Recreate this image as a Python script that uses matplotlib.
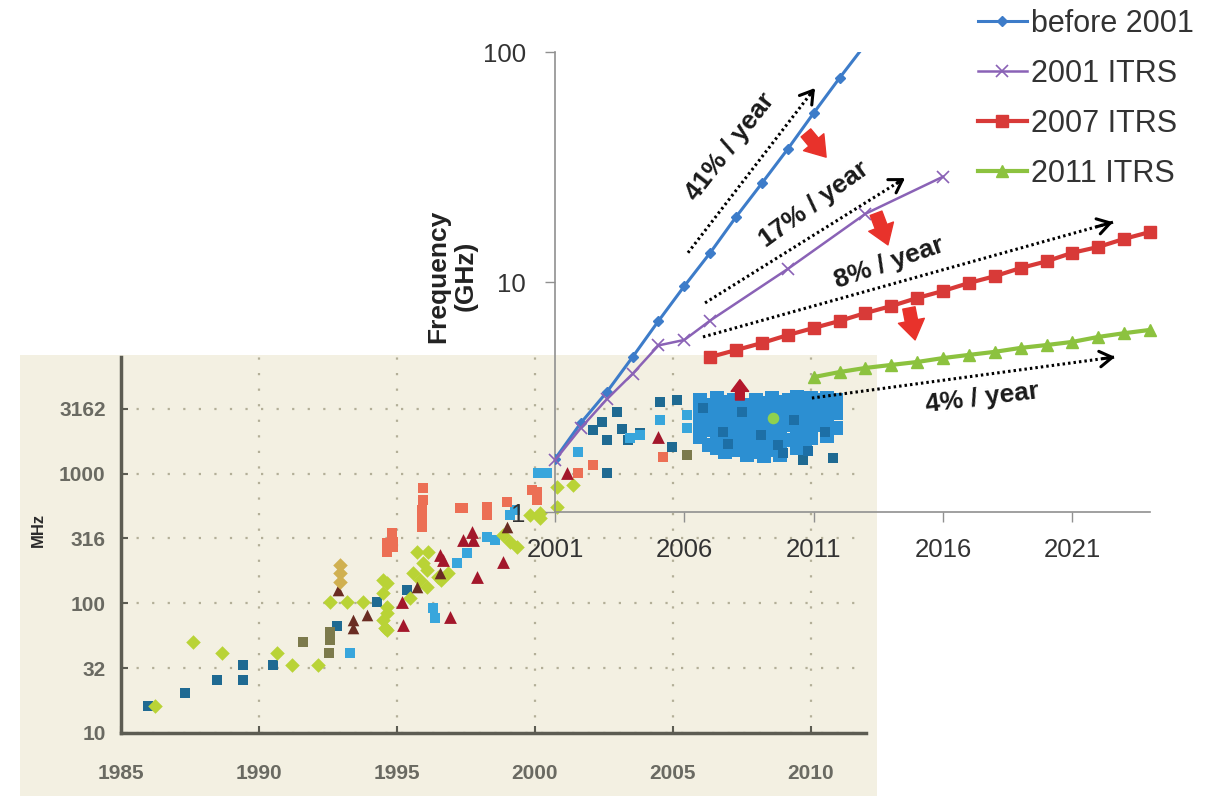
import numpy as np
import matplotlib
matplotlib.use('Agg')
import matplotlib.pyplot as plt
from matplotlib.patches import Rectangle
from matplotlib.ticker import NullLocator
from matplotlib import font_manager

# ---------------- data ----------------
# foreground chart (GHz vs year)
years_before = [2001, 2002, 2003, 2004, 2005, 2006, 2007, 2008, 2009, 2010, 2011, 2012, 2013]
ghz_before = [1.70, 2.44, 3.32, 4.72, 6.77, 9.6, 13.4, 19.2, 26.9, 37.9, 54.3, 77.1, 108]

years_2001 = [2001, 2002, 2003, 2004, 2005, 2006, 2007, 2010, 2013, 2016]
ghz_2001 = [1.68, 2.32, 3.09, 3.99, 5.3, 5.6, 6.8, 11.4, 19.8, 28.7]

years_2007 = list(range(2007, 2025))
ghz_2007 = [4.72, 5.06, 5.43, 5.88, 6.31, 6.77, 7.33, 7.86, 8.52, 9.14,
            9.90, 10.6, 11.5, 12.3, 13.4, 14.2, 15.4, 16.5]

years_2011 = list(range(2011, 2025))
ghz_2011 = [3.86, 4.06, 4.23, 4.36, 4.49, 4.67, 4.82, 4.97, 5.17, 5.32, 5.49, 5.77, 5.99, 6.19]

series_labels = ['before 2001', '2001 ITRS', '2007 ITRS', '2011 ITRS']

fg_xticks = [2001, 2006, 2011, 2016, 2021]
fg_yticks = [1, 10, 100]
fg_yticklabels = ['1', '10', '100']

# trend annotations (x0, y0, x1, y1) in year / GHz
trend_lines = [(2006.14, 13.4, 2011.05, 69.7),
               (2006.80, 8.11, 2014.53, 28.3),
               (2006.72, 5.77, 2022.57, 18.2),
               (2010.93, 3.13, 2022.65, 4.72)]
trend_texts = ['41% / year', '17% / year', '8% / year', '4% / year']
trend_text_pos = [(2007.76, 38.6), (2011.01, 21.8), (2013.91, 12.1), (2017.5, 3.13)]
trend_text_rot = [52, 36, 19, 7]
red_arrows = [(2010.70, 44.5, 2011.48, 34.9),
              (2013.41, 19.9, 2013.87, 14.5),
              (2014.68, 7.71, 2014.92, 5.6)]

# background chart (MHz vs year) - processor clock scatter
bg_xticks = [1985, 1990, 1995, 2000, 2005, 2010]
bg_yticks = [10, 31.62, 100, 316.2, 1000, 3162]
bg_yticklabels = ['10', '32', '100', '316', '1000', '3162']

teal_years = [1985.98, 1987.32, 1988.48, 1989.42, 1989.42, 1990.51, 1992.83, 1994.28, 1995.36,
              2002.61, 2002.97, 2002.43, 2002.10, 2003.15, 2002.61, 2003.37, 2003.80,
              2004.53, 2005.14, 2004.96, 2010.80, 2009.71]
teal_mhz = [16.1, 20.3, 25.6, 33.4, 25.6, 33.4, 66.8, 102, 127,
            1012, 2986, 2502, 2168, 2208, 1815, 1815, 2055,
            3565, 3692, 1604, 1320, 1274]

cyan_years = [1993.30, 1996.30, 1996.38, 1997.17, 1997.54, 1998.26, 1998.55, 1999.09, 1999.28,
              2000.43, 2001.56, 2004.53, 2005.51, 2005.51, 2000.11, 2003.44, 2003.80]
cyan_mhz = [41.4, 92.0, 77, 205, 244, 325, 308, 480, 524,
            1012, 1468, 2591, 2831, 2249, 1012, 1880, 1990]

yg_years = [1986.23, 1987.61, 1988.66, 1990.65, 1991.20, 1992.14, 1992.57, 1993.19, 1993.77,
            1994.64, 1994.64, 1994.49, 1994.57, 1994.49, 1994.49, 1994.64, 1994.64,
            1995.72, 1996.12, 1995.94, 1996.09, 1995.83, 1996.09, 1996.85, 1998.84, 1999.09,
            1999.35, 1999.82, 2000.18, 2000.18, 2000.80, 2001.38, 2000.80, 1995.47, 1995.6,
            1996.5, 1996.6]
yg_mhz = [16.1, 50.3, 41.4, 41.4, 33.4, 33.4, 102, 102, 102,
          143, 93, 74.3, 64.5, 151, 120, 84.2, 62,
          249, 249, 205, 181, 151, 134, 171, 336, 297,
          272, 480, 497, 455, 788, 817, 552, 110, 171,
          160, 150]

salmon_years = [1995.94, 1995.94, 1995.91, 1995.91, 1995.91, 1994.82, 1994.64, 1994.86, 1994.64,
                1997.39, 1998.26, 1998.26, 1998.99, 2000.07, 2000.07, 1999.89, 2001.56, 2002.10,
                1994.67, 1994.86, 1997.28, 2004.64]
salmon_mhz = [774, 626, 524, 455, 388, 348, 292, 272, 249,
              543, 552, 480, 604, 721, 626, 748, 1012, 1164,
              282, 297, 543, 1350]

dred_years = [1995.18, 1995.22, 1996.92, 1996.56, 1996.67, 1997.39, 1997.72, 1997.75, 1997.90,
              1998.84, 2001.16, 2004.46]
dred_mhz = [102, 68, 78, 236, 216, 308, 355, 308, 160, 209, 1012, 1915]

brown_years = [1993.41, 1993.91, 1993.41, 1992.86, 1995.72, 1996.56, 1998.99, 2010.22]
brown_mhz = [64.5, 81.2, 74.3, 127, 134, 171, 388, 3692]

olive_years = [1991.59, 1992.54, 1992.57, 1992.57, 2005.51]
olive_mhz = [50.3, 41.4, 52.1, 60.1, 1391]

tan_years = [1992.93, 1992.93, 1992.93]
tan_mhz = [197, 171, 146]

green_dot_years = [2008.62]
green_dot_mhz = [2685]

cluster_years = ([2006.0] * 4 + [2006.3] * 4 + [2006.6] * 5 + [2006.9] * 5 + [2007.2] * 5 +
                 [2007.7] * 5 + [2008.0] * 5 + [2008.3] * 5 + [2008.6] * 5 + [2008.9] * 5 +
                 [2009.2] * 4 + [2009.5] * 5 + [2009.8] * 4 + [2010.0] * 4 + [2010.3] * 3 +
                 [2010.6] * 4 + [2010.9] * 3)
cluster_mhz = [3690, 2990, 2370, 1915,
               3380, 2685, 2170, 1660,
               3830, 3090, 2500, 1990, 1575,
               3565, 2830, 2250, 1815, 1470,
               3690, 2990, 2370, 1880, 1520,
               3380, 2685, 2100, 1660, 1390,
               3690, 2935, 2330, 1815, 1470,
               3500, 2780, 2170, 1690, 1370,
               3830, 3090, 2415, 1915, 1520,
               3565, 2880, 2250, 1755, 1390,
               3690, 2990, 2370, 1815,
               3900, 3090, 2500, 1955, 1575,
               3690, 2935, 2330, 1815,
               3830, 3090, 2415, 1880,
               3690, 2990, 2370,
               3830, 3090, 2460, 1955,
               3690, 2935, 2250]
cluster_dark_years = [2006.1, 2006.8, 2007.5, 2008.2, 2008.8, 2009.4, 2009.9, 2010.5, 2007.0, 2009.0]
cluster_dark_mhz = [3200, 2100, 3000, 2000, 1650, 2600, 1500, 2100, 1700, 1450]

up_arrow = (2007.43, 3692, 2007.43, 5300)

# ---------------- style ----------------
names = {f.name for f in font_manager.fontManager.ttflist}
SANS = 'Liberation Sans' if 'Liberation Sans' in names else 'DejaVu Sans'
NARROW = 'Liberation Sans Narrow' if 'Liberation Sans Narrow' in names else SANS
plt.rcParams['font.family'] = [SANS, 'DejaVu Sans']

W, H = 1226, 796
fig = plt.figure(figsize=(W / 100, H / 100), dpi=100)
bg_rect = Rectangle((20 / W, 0), (877 - 20) / W, 1 - 355 / H,
                    transform=fig.transFigure, facecolor='#f3f0e2',
                    edgecolor='none', zorder=-10)
fig.patches.append(bg_rect)

# ---------------- background chart ----------------
axb = fig.add_axes([121 / W, 1 - 733 / H, (866 - 121) / W, (733 - 357) / H], zorder=1)
axb.set_facecolor('none')
axb.set_yscale('log')
axb.set_xlim(1985, 2012)
axb.set_ylim(10, 7925)
axb.set_xticks(bg_xticks)
axb.set_xticklabels([str(v) for v in bg_xticks], family=[NARROW, 'DejaVu Sans'],
                    fontweight='bold')
axb.set_yticks(bg_yticks)
axb.set_yticklabels(bg_yticklabels, family=[NARROW, 'DejaVu Sans'], fontweight='bold')
axb.yaxis.set_minor_locator(NullLocator())
axb.tick_params(axis='both', direction='in', length=5, width=1.5, color='#5c5c52',
                labelsize=15, labelcolor='#6a6a62')
axb.tick_params(axis='y', pad=11)
axb.tick_params(axis='x', pad=22)
axb.grid(True, which='major', linestyle=(0, (1, 6)), linewidth=1.6, color='#b3af98')
for s in ['top', 'right']:
    axb.spines[s].set_visible(False)
for s in ['left', 'bottom']:
    axb.spines[s].set_linewidth(2.5)
    axb.spines[s].set_color('#5c5c52')

axb.scatter(teal_years, teal_mhz, marker='s', s=60, color='#1f6a92', zorder=3, linewidths=0)
axb.scatter(cyan_years, cyan_mhz, marker='s', s=60, color='#38a6dc', zorder=3, linewidths=0)
axb.scatter(yg_years, yg_mhz, marker='D', s=55, color='#b9d336', zorder=3, linewidths=0)
axb.scatter(salmon_years, salmon_mhz, marker='s', s=50, color='#ec6f55', zorder=3, linewidths=0)
axb.scatter(dred_years, dred_mhz, marker='^', s=85, color='#a3172b', zorder=3, linewidths=0)
axb.scatter(brown_years, brown_mhz, marker='^', s=70, color='#6a2c22', zorder=3, linewidths=0)
axb.scatter(olive_years, olive_mhz, marker='s', s=60, color='#7c7a4c', zorder=3, linewidths=0)
axb.scatter(tan_years, tan_mhz, marker='D', s=55, color='#d0b050', zorder=3, linewidths=0)
axb.scatter(cluster_years, cluster_mhz, marker='s', s=95, color='#2c8fd2', zorder=3, linewidths=0)
axb.scatter(cluster_dark_years, cluster_dark_mhz, marker='s', s=60, color='#1d6fa6', zorder=3, linewidths=0)
axb.scatter(green_dot_years, green_dot_mhz, marker='o', s=70, color='#8fd14f', zorder=4, linewidths=0)
axb.annotate('', xy=(up_arrow[2], up_arrow[3]), xytext=(up_arrow[0], up_arrow[1]),
             arrowprops=dict(arrowstyle='simple,head_length=0.6,head_width=0.9,tail_width=0.45',
                             color='#b3182c', mutation_scale=14, shrinkA=0, shrinkB=0),
             annotation_clip=False, zorder=5)

fig.text(38 / W, 1 - 530 / H, 'MHz', rotation=90, fontsize=12, fontweight='bold',
         ha='center', va='center', color='#2a2a2a')

# ---------------- foreground chart ----------------
axf = fig.add_axes([555 / W, 1 - 512 / H, (1150 - 555) / W, (512 - 52) / H], zorder=2)
axf.set_facecolor('none')
axf.set_yscale('log')
axf.set_xlim(2001, 2024)
axf.set_ylim(1, 100)
axf.set_xticks(fg_xticks)
axf.set_xticklabels([str(v) for v in fg_xticks])
axf.set_yticks(fg_yticks)
axf.set_yticklabels(fg_yticklabels)
axf.yaxis.set_minor_locator(NullLocator())
axf.tick_params(axis='both', direction='out', length=7, width=1, color='#909090',
                labelsize=18.5, labelcolor='#333333')
axf.tick_params(axis='y', pad=14)
axf.tick_params(axis='x', pad=12)
for s in ['top', 'right']:
    axf.spines[s].set_visible(False)
for s in ['left', 'bottom']:
    axf.spines[s].set_linewidth(1.2)
    axf.spines[s].set_color('#909090')

l1, = axf.plot(years_before, ghz_before, color='#3d7cc9', lw=2.2, marker='D', ms=5.5,
               label=series_labels[0], zorder=6)
l2, = axf.plot(years_2001, ghz_2001, color='#8a62b6', lw=1.8, marker='x', ms=8, mew=1.2,
               label=series_labels[1], zorder=6, clip_on=False)
l3, = axf.plot(years_2007, ghz_2007, color='#d83a38', lw=3, marker='s', ms=9,
               label=series_labels[2], zorder=6, clip_on=False)
l4, = axf.plot(years_2011, ghz_2011, color='#8cc23f', lw=3, marker='^', ms=9,
               label=series_labels[3], zorder=6, clip_on=False)

for (x0, y0, x1, y1) in trend_lines:
    axf.plot([x0, x1], [y0, y1], color='black', lw=2.2, linestyle=(0, (0.8, 1.0)),
             clip_on=False, zorder=7)
    xm = x1 - (x1 - x0) * 0.04
    ym = 10 ** (np.log10(y1) - (np.log10(y1) - np.log10(y0)) * 0.04)
    axf.annotate('', xy=(x1, y1), xytext=(xm, ym),
                 arrowprops=dict(arrowstyle='->,head_length=0.45,head_width=0.28', lw=2.2,
                                 color='black', mutation_scale=20, shrinkA=0, shrinkB=0),
                 annotation_clip=False, zorder=7)

for txt, (tx, ty), rot in zip(trend_texts, trend_text_pos, trend_text_rot):
    axf.text(tx, ty, txt, rotation=rot, rotation_mode='anchor', ha='center', va='center',
             fontsize=19, fontweight='bold', color='#1a1a1a', clip_on=False, zorder=8)

for (x0, y0, x1, y1) in red_arrows:
    axf.annotate('', xy=(x1, y1), xytext=(x0, y0),
                 arrowprops=dict(arrowstyle='simple,head_length=0.7,head_width=0.95,tail_width=0.45',
                                 color='#e8322b', mutation_scale=20, shrinkA=0, shrinkB=0),
                 annotation_clip=False, zorder=8)

fig.text(452 / W, 1 - 276 / H, 'Frequency\n(GHz)', rotation=90, fontsize=19,
         fontweight='bold', ha='center', va='center', multialignment='center',
         color='#222222', linespacing=1.15)

fig.legend(handles=[l1, l2, l3, l4], labels=series_labels, loc='upper left',
           bbox_to_anchor=(978 / W, 1 - 9 / H), frameon=False, fontsize=22,
           handlelength=1.6, handletextpad=0.15, labelspacing=0.65, borderaxespad=0,
           borderpad=0, labelcolor='#333333')

fig.savefig('out.png', dpi=100)
